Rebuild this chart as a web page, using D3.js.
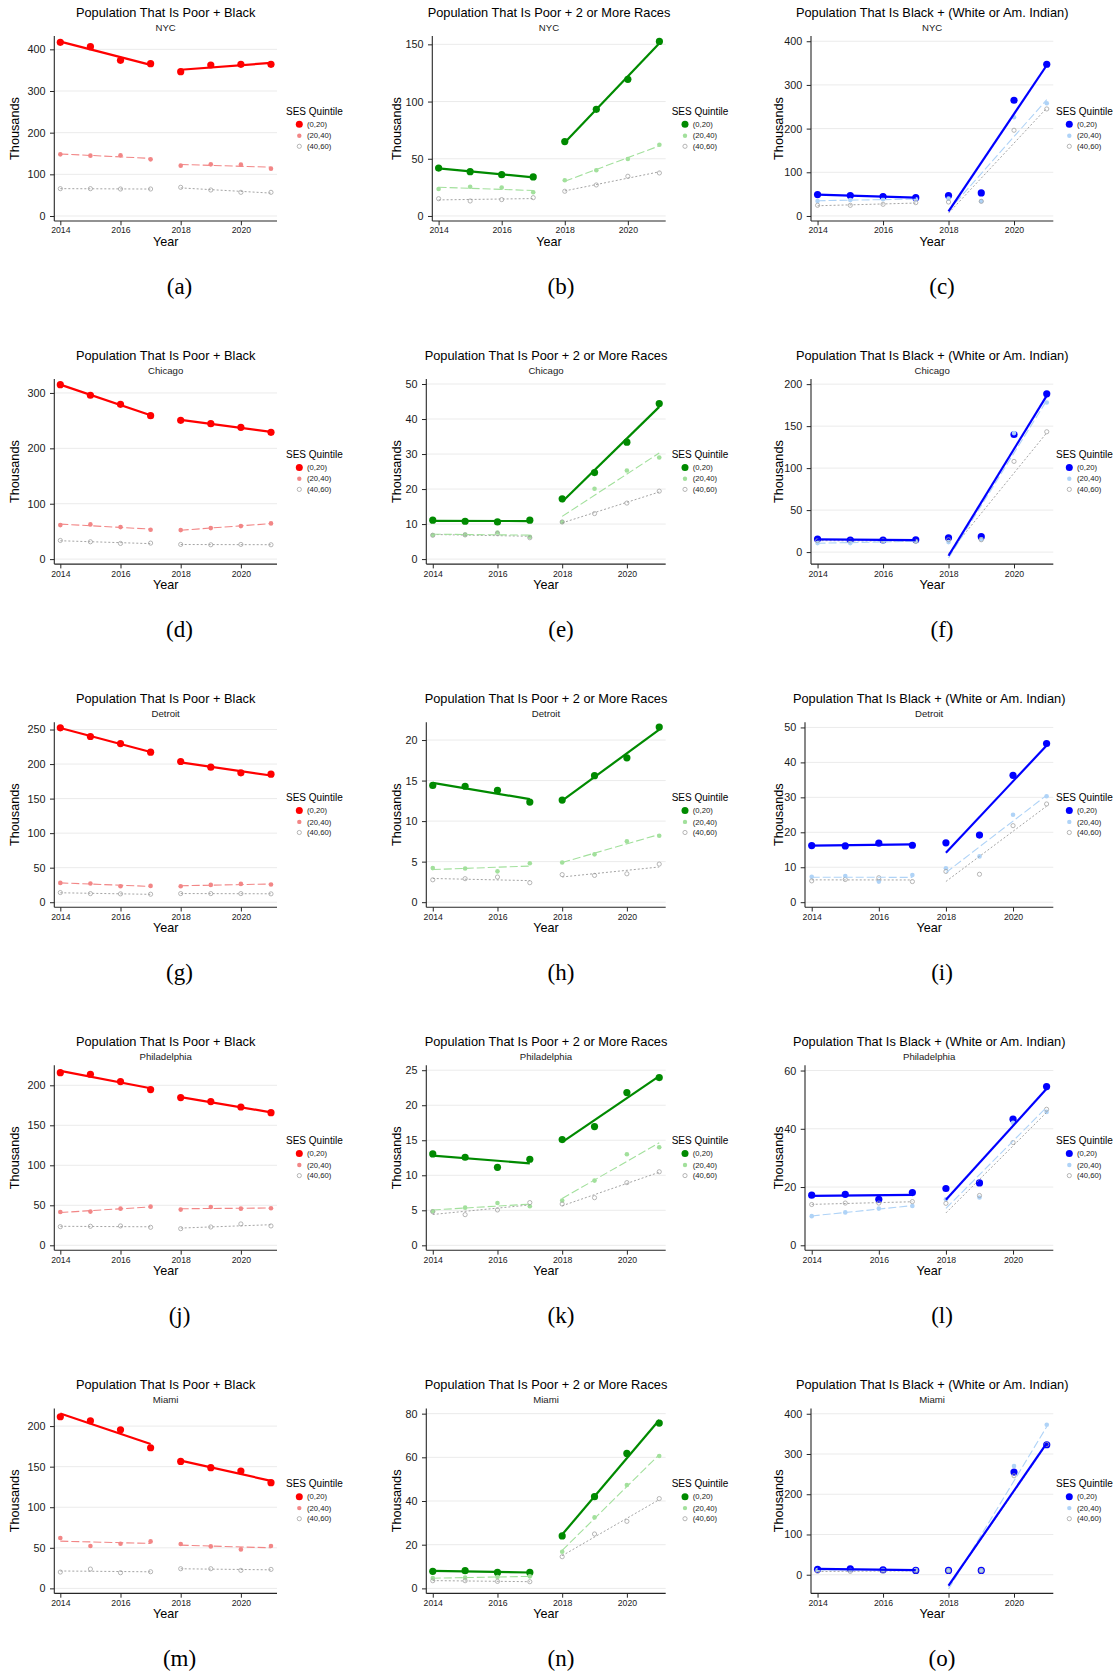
<!DOCTYPE html>
<html>
<head>
<meta charset="utf-8">
<script src="https://cdn.jsdelivr.net/npm/d3@7"></script>
<style>
  body { margin: 0; background: #fff; }
  svg { display: block; font-family: "Liberation Sans", Arial, Helvetica, sans-serif; }
</style>
</head>
<body>
<svg id="fig" width="1117" height="1676"></svg>
<script>
// ---- categories and labels ----
const years = [2014, 2015, 2016, 2017, 2018, 2019, 2020, 2021];
const quintileLabels = ["(0,20)", "(20,40)", "(40,60)"];
const chartTitles = [
  "Population That Is Poor + Black",
  "Population That Is Poor + 2 or More Races",
  "Population That Is Black + (White or Am. Indian)"
];
const cities = ["NYC", "Chicago", "Detroit", "Philadelphia", "Miami"];
const captions = ["(a)", "(b)", "(c)", "(d)", "(e)", "(f)", "(g)", "(h)", "(i)", "(j)", "(k)", "(l)", "(m)", "(n)", "(o)"];
const xTickValues = [2014, 2016, 2018, 2020];

// ---- values in thousands, one row per SES quintile ----
const nycPoorBlack = [
  [416.8, 406.4, 373.6, 365.6, 346.4, 362.4, 364.0, 364.0],
  [148.0, 144.8, 145.6, 136.0, 120.8, 124.0, 123.2, 113.6],
  [65.6, 65.6, 64.8, 64.8, 68.8, 62.4, 56.8, 56.8]
];
const nycPoorMulti = [
  [41.9, 38.7, 36.1, 34.1, 65.0, 93.2, 119.4, 152.6],
  [23.6, 25.6, 24.8, 20.7, 31.2, 39.9, 49.8, 62.3],
  [15.1, 13.1, 14.3, 16.0, 21.6, 27.1, 34.7, 37.6]
];
const nycBlackMix = [
  [48.9, 46.6, 44.3, 42.0, 46.6, 52.7, 264.9, 347.3],
  [34.4, 36.6, 38.2, 38.2, 39.7, 33.6, 226.0, 258.0],
  [24.4, 24.4, 26.7, 30.5, 32.0, 33.6, 196.2, 245.0]
];
const chiPoorBlack = [
  [315.0, 295.8, 279.5, 259.0, 250.6, 244.6, 238.0, 228.9],
  [61.4, 62.7, 57.8, 53.0, 52.4, 56.0, 59.6, 64.5],
  [33.7, 31.3, 28.3, 28.9, 26.5, 25.9, 26.5, 25.9]
];
const chiPoorMulti = [
  [11.1, 10.8, 10.6, 11.1, 17.2, 24.7, 33.4, 44.4],
  [6.9, 7.0, 7.6, 6.4, 10.6, 20.1, 25.3, 29.0],
  [6.8, 6.9, 7.3, 6.1, 10.6, 13.0, 16.0, 19.4]
];
const chiBlackMix = [
  [15.5, 14.3, 14.3, 14.7, 17.1, 18.3, 140.0, 188.5],
  [10.7, 10.7, 12.7, 12.7, 11.9, 15.1, 141.7, 178.2],
  [13.5, 13.5, 13.5, 12.7, 14.7, 14.7, 108.0, 143.3]
];
const detPoorBlack = [
  [252.4, 239.9, 229.7, 217.2, 203.7, 195.5, 187.3, 185.3],
  [28.0, 27.0, 23.2, 23.6, 23.2, 25.1, 26.5, 25.6],
  [14.0, 12.5, 12.1, 11.6, 12.5, 12.5, 12.5, 12.1]
];
const detPoorMulti = [
  [14.4, 14.3, 13.8, 12.35, 12.6, 15.6, 17.8, 21.6],
  [4.2, 4.16, 3.8, 4.8, 4.9, 5.9, 7.5, 8.2],
  [2.76, 2.9, 3.1, 2.4, 3.4, 3.3, 3.5, 4.7]
];
const detBlackMix = [
  [16.2, 16.1, 16.9, 16.3, 17.0, 19.2, 36.3, 45.4],
  [7.3, 7.5, 5.9, 7.8, 9.7, 13.1, 25.0, 30.3],
  [6.1, 6.5, 7.0, 5.9, 8.8, 8.0, 21.9, 28.1]
];
const phiPoorBlack = [
  [215.8, 213.8, 204.6, 194.6, 184.6, 179.6, 172.9, 165.8],
  [41.7, 42.1, 45.8, 48.3, 44.6, 47.9, 45.8, 46.3],
  [23.3, 23.8, 24.2, 22.5, 20.8, 22.9, 26.7, 24.2]
];
const phiPoorMulti = [
  [13.05, 12.57, 11.14, 12.29, 15.1, 16.95, 21.8, 23.95],
  [4.86, 5.38, 6.05, 5.57, 6.4, 9.24, 13.0, 14.0],
  [4.81, 4.38, 5.05, 6.1, 5.9, 6.8, 8.95, 10.5]
];
const phiBlackMix = [
  [17.2, 17.5, 15.8, 18.1, 19.5, 21.4, 43.3, 54.5],
  [10.0, 11.3, 12.6, 13.5, 15.8, 16.4, 42.1, 45.8],
  [14.0, 14.5, 14.5, 15.0, 14.4, 17.1, 35.3, 46.7]
];
const miaPoorBlack = [
  [211.5, 206.6, 195.5, 173.3, 156.5, 148.7, 144.6, 130.2],
  [62.0, 52.2, 55.0, 57.9, 54.6, 51.7, 48.0, 52.2],
  [20.1, 23.8, 19.3, 20.5, 24.2, 24.2, 22.2, 23.4]
];
const miaPoorMulti = [
  [7.8, 8.1, 7.3, 7.3, 24.0, 42.0, 61.8, 75.7],
  [4.7, 4.9, 5.2, 5.5, 16.8, 32.5, 47.3, 60.6],
  [3.5, 3.5, 3.2, 3.05, 14.5, 24.9, 30.7, 41.1]
];
const miaBlackMix = [
  [13.3, 14.9, 12.4, 10.8, 10.8, 10.8, 255.0, 323.0],
  [11.6, 11.6, 11.6, 11.6, 10.8, 10.8, 270.0, 372.7],
  [8.3, 8.3, 9.1, 9.9, 9.9, 9.9, 246.0, 323.8]
];

// ---- y-axis tick labels per panel ----
const yTicksA = [0, 100, 200, 300, 400];
const yTicksB = [0, 50, 100, 150];
const yTicksC = [0, 100, 200, 300, 400];
const yTicksD = [0, 100, 200, 300];
const yTicksE = [0, 10, 20, 30, 40, 50];
const yTicksF = [0, 50, 100, 150, 200];
const yTicksG = [0, 50, 100, 150, 200, 250];
const yTicksH = [0, 5, 10, 15, 20];
const yTicksI = [0, 10, 20, 30, 40, 50];
const yTicksJ = [0, 50, 100, 150, 200];
const yTicksK = [0, 5, 10, 15, 20, 25];
const yTicksL = [0, 20, 40, 60];
const yTicksM = [0, 50, 100, 150, 200];
const yTicksN = [0, 20, 40, 60, 80];
const yTicksO = [0, 100, 200, 300, 400];

const panelData = [
  [nycPoorBlack, nycPoorMulti, nycBlackMix],
  [chiPoorBlack, chiPoorMulti, chiBlackMix],
  [detPoorBlack, detPoorMulti, detBlackMix],
  [phiPoorBlack, phiPoorMulti, phiBlackMix],
  [miaPoorBlack, miaPoorMulti, miaBlackMix]
];
const panelTicks = [
  [yTicksA, yTicksB, yTicksC],
  [yTicksD, yTicksE, yTicksF],
  [yTicksG, yTicksH, yTicksI],
  [yTicksJ, yTicksK, yTicksL],
  [yTicksM, yTicksN, yTicksO]
];

// ---- layout / style ----
const yRange = [
  [[-12, 432], [-4.4, 157.3], [-11.5, 412]],
  [[-9, 325], [-1.43, 51.4], [-14.3, 206]],
  [[-7.2, 260.6], [-0.62, 22.2], [-1.43, 51.5]],
  [[-6.25, 225], [-0.71, 25.7], [-1.72, 61.8]],
  [[-6.2, 221.8], [-2.3, 82.4], [-46.4, 413.3]]
];
const rowStep = 343.1;
const plotTop = 36, plotBottom = 221;
const colAxis3 = [54.3, 432.3, 811];      // y-axis x when tick labels are 3 digits wide
const colRight = [277, 665.7, 1053.3];
const colYTitle = [14, 396.4, 778.4];
const colLegend = [286, 671.7, 1056];
const colCaption = [179.5, 561, 942];

const palettes = [
  ["#FF0000", "#F28686", "#A3A3A3"],
  ["#008A00", "#A2E09C", "#A3A3A3"],
  ["#0000FF", "#AFD3F7", "#A3A3A3"]
];
const axisColor = "#262626";
const gridColor = "#EBEBEB";
const sansFont = "'Liberation Sans', Arial, Helvetica, sans-serif";
const serifFont = "'Liberation Serif', 'Times New Roman', serif";

const svg = d3.select("#fig");

// text width helper
const measure = (str, size) => {
  const t = svg.append("text").attr("font-size", size).style("font-family", sansFont).text(str);
  const w = t.node().getComputedTextLength();
  t.remove();
  return w;
};
const tickFont = 10.8;
const w3 = measure("400", tickFont);

// least-squares line through a set of (year, value) pairs
function lsFit(xs, ys) {
  const mx = d3.mean(xs), my = d3.mean(ys);
  let sxy = 0, sxx = 0;
  xs.forEach((x, i) => { sxy += (x - mx) * (ys[i] - my); sxx += (x - mx) * (x - mx); });
  const b = sxy / sxx;
  return x => my + b * (x - mx);
}

const periods = [[0, 4], [4, 8]];

for (let r = 0; r < 5; r++) {
  for (let c = 0; c < 3; c++) {
    const series = panelData[r][c];
    const ticks = panelTicks[r][c];
    const pal = palettes[c];
    const g = svg.append("g").attr("transform", `translate(0,${r * rowStep})`);

    const maxW = d3.max(ticks, t => measure(String(t), tickFont));
    const x0 = colAxis3[c] - (w3 - maxW);
    const x1 = colRight[c];

    const x = d3.scaleLinear().domain([2013.8, 2021.2]).range([x0, x1]);
    const y = d3.scaleLinear().domain(yRange[r][c]).range([plotBottom, plotTop]);

    // horizontal gridlines
    g.append("g").selectAll("line").data(ticks).join("line")
      .attr("x1", x0).attr("x2", x1)
      .attr("y1", d => y(d)).attr("y2", d => y(d))
      .attr("stroke", gridColor).attr("stroke-width", 1);

    // y axis
    const yAxis = d3.axisLeft(y).tickValues(ticks).tickSize(4.3).tickPadding(4.5).tickFormat(d3.format("d"));
    const ya = g.append("g").attr("transform", `translate(${x0},0)`).call(yAxis);
    ya.select(".domain").remove();
    ya.selectAll(".tick line").attr("stroke", axisColor).attr("stroke-width", 1);
    ya.selectAll(".tick text").attr("font-size", tickFont).attr("fill", "#1a1a1a")
      .style("font-family", sansFont);

    // x axis
    const xAxis = d3.axisBottom(x).tickValues(xTickValues).tickSize(4.3).tickPadding(2).tickFormat(d3.format("d"));
    const xa = g.append("g").attr("transform", `translate(0,${plotBottom})`).call(xAxis);
    xa.select(".domain").remove();
    xa.selectAll(".tick line").attr("stroke", axisColor).attr("stroke-width", 1);
    xa.selectAll(".tick text").attr("font-size", 8.7).attr("fill", "#1a1a1a")
      .style("font-family", sansFont);

    // axis lines
    g.append("line").attr("x1", x0).attr("x2", x0).attr("y1", plotTop).attr("y2", plotBottom)
      .attr("stroke", axisColor).attr("stroke-width", 1.1);
    g.append("line").attr("x1", x0).attr("x2", x1).attr("y1", plotBottom).attr("y2", plotBottom)
      .attr("stroke", axisColor).attr("stroke-width", 1.1);

    // points
    const ptStyle = [
      { r: 3.6, fill: pal[0], stroke: "none" },
      { r: 2.3, fill: pal[1], stroke: "none" },
      { r: 2.1, fill: "none", stroke: pal[2] }
    ];
    [0, 1, 2].forEach(q => {
      const st = ptStyle[q];
      g.append("g").selectAll("circle").data(series[q]).join("circle")
        .attr("cx", (d, i) => x(years[i]))
        .attr("cy", d => y(d))
        .attr("r", st.r)
        .attr("fill", st.fill)
        .attr("stroke", st.stroke)
        .attr("stroke-width", 0.8);
    });

    // fitted trend for each period
    const lnStyle = [
      { w: 2.2, dash: null },
      { w: 1.1, dash: "8,3" },
      { w: 0.9, dash: "2,2" }
    ];
    [2, 1, 0].forEach(q => {
      periods.forEach(([a, b]) => {
        const xs = years.slice(a, b), ys = series[q].slice(a, b);
        const f = lsFit(xs, ys);
        const ends = [xs[0], xs[xs.length - 1]];
        g.append("path")
          .attr("d", d3.line().x(d => x(d)).y(d => y(f(d)))(ends))
          .attr("fill", "none")
          .attr("stroke", q === 2 ? "#9A9A9A" : pal[q])
          .attr("stroke-width", lnStyle[q].w)
          .attr("stroke-dasharray", lnStyle[q].dash);
      });
    });

    const cx = (x0 + x1) / 2;
    // titles
    g.append("text").attr("x", cx).attr("y", 16.5).attr("text-anchor", "middle")
      .attr("font-size", 12.8).attr("fill", "#000").text(chartTitles[c]);
    g.append("text").attr("x", cx).attr("y", 30.7).attr("text-anchor", "middle")
      .attr("font-size", 9.6).attr("fill", "#1a1a1a").text(cities[r]);
    g.append("text").attr("x", cx).attr("y", 246).attr("text-anchor", "middle")
      .attr("font-size", 12.6).attr("fill", "#000").text("Year");
    g.append("text")
      .attr("transform", `translate(${colYTitle[c] + 4.5},${(plotTop + plotBottom) / 2}) rotate(-90)`)
      .attr("text-anchor", "middle").attr("font-size", 12.7).attr("fill", "#000").text("Thousands");

    // legend
    const lx = colLegend[c];
    g.append("text").attr("x", lx).attr("y", 115).attr("font-size", 10).attr("fill", "#000").text("SES Quintile");
    const legY = [124.3, 135.7, 146.3];
    const legR = [3.5, 2.2, 2.1];
    quintileLabels.forEach((lab, q) => {
      g.append("circle").attr("cx", lx + 13.3).attr("cy", legY[q]).attr("r", legR[q])
        .attr("fill", q === 2 ? "none" : pal[q])
        .attr("stroke", q === 2 ? pal[2] : "none").attr("stroke-width", 0.8);
      g.append("text").attr("x", lx + 21).attr("y", legY[q]).attr("dy", "0.35em")
        .attr("font-size", 7.7).attr("fill", "#1a1a1a").text(lab);
    });

    // sub-figure caption
    g.append("text").attr("x", colCaption[c]).attr("y", 294).attr("text-anchor", "middle")
      .style("font-family", serifFont)
      .attr("font-size", 23).attr("fill", "#000").text(captions[r * 3 + c]);
  }
}
</script>
</body>
</html>
